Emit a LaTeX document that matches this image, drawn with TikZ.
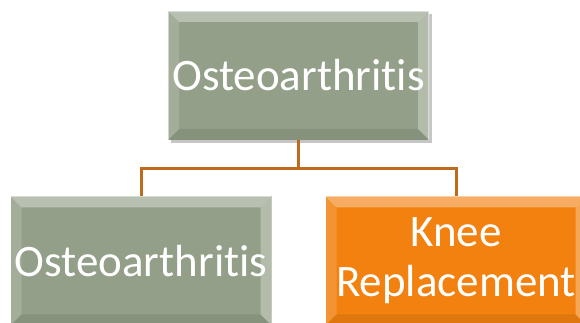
\documentclass[tikz,border=0pt]{standalone}
\usepackage{fontspec}
\setmainfont{Carlito}[Ligatures={NoCommon,NoContextual}]
\usetikzlibrary{positioning,shadows}
\definecolor{Sage}{HTML}{939F88}
\definecolor{Pumpkin}{HTML}{F28110}
\definecolor{Rust}{HTML}{BF6B1F}

\tikzset{
  bevelbox/.style={minimum width=261pt, minimum height=129pt, inner sep=0pt, align=center,
    text=white, font=\fontsize{45}{50}\selectfont,
    path picture={
      \path (path picture bounding box.north west) coordinate (bnw)
            (path picture bounding box.north east) coordinate (bne)
            (path picture bounding box.south east) coordinate (bse)
            (path picture bounding box.south west) coordinate (bsw);
      % light top and left edges, bright right edge, dark bottom edge
      \fill[white,opacity=.35] (bnw) -- (bne) -- ([shift={(-11pt,-11pt)}]bne) -- ([shift={(11pt,-11pt)}]bnw) -- cycle;
      \fill[white,opacity=.15] (bnw) -- ([shift={(11pt,-11pt)}]bnw) -- ([shift={(11pt,11pt)}]bsw) -- (bsw) -- cycle;
      \fill[white,opacity=.3] (bne) -- (bse) -- ([shift={(-11pt,11pt)}]bse) -- ([shift={(-11pt,-11pt)}]bne) -- cycle;
      \fill[black,opacity=.08] (bsw) -- (bse) -- ([shift={(-11pt,11pt)}]bse) -- ([shift={(11pt,11pt)}]bsw) -- cycle;
      \draw[white,opacity=.5,line width=1.5pt] (bsw) -- (bnw) -- (bne) -- (bse);
    }},
  link/.style={draw=Rust, line width=3pt}
}

\begin{document}
\begin{tikzpicture}
\useasboundingbox (0,0) rectangle (580pt,-323pt);
\clip (0,0) rectangle (580pt,-323pt);
\node[bevelbox, fill=Sage, drop shadow={shadow xshift=3pt, shadow yshift=-3pt, opacity=.45}] (disease) at (298.5pt,-75.5pt) {Osteoarthritis};
\node[bevelbox, fill=Sage, below=56pt of disease, xshift=-157.5pt] (condition) {Osteoarthritis};
\node[bevelbox, fill=Pumpkin, below=56pt of disease, xshift=157.5pt] (surgery) {Knee\\Replacement};
\coordinate (fork) at ([yshift=-28pt]disease.south);
\draw[link] (disease.south) -- (fork) -| (condition.north);
\draw[link] (fork) -| (surgery.north);
\end{tikzpicture}
\end{document}
